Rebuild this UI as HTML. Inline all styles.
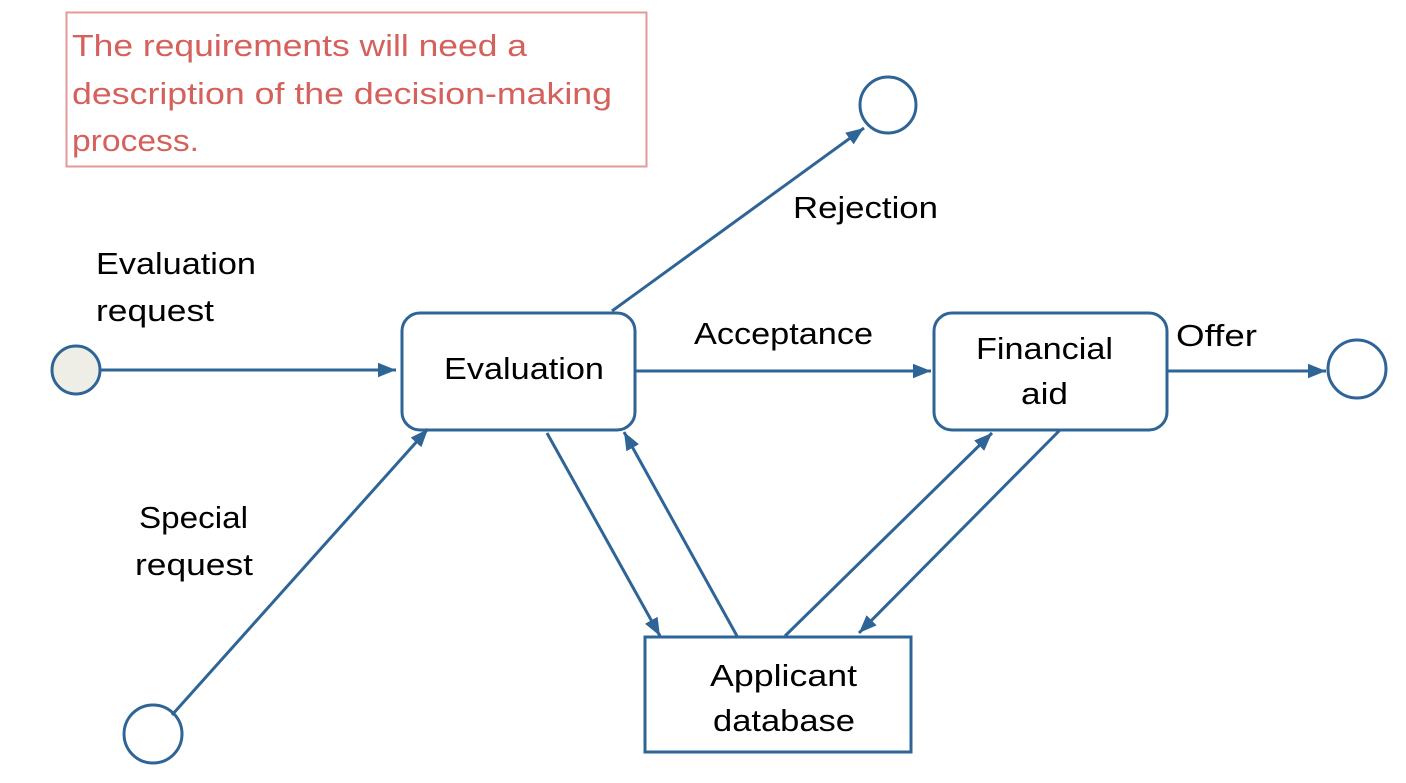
<!DOCTYPE html>
<html><head><meta charset="utf-8"><style>
html,body{margin:0;padding:0;background:#fff;width:1406px;height:783px;overflow:hidden}
svg text{font-family:"Liberation Sans",sans-serif;}
</style></head><body>
<svg width="1406" height="783" viewBox="0 0 1406 783" xmlns="http://www.w3.org/2000/svg">
<defs>
<marker id="b" viewBox="0 0 10 10" refX="10" refY="5" markerWidth="18" markerHeight="18" markerUnits="userSpaceOnUse" orient="auto">
<path d="M0,1 L10,5 L0,9 z" fill="#2e6496"/>
</marker>
</defs>
<rect x="66.5" y="12.5" width="580" height="154" fill="#fff" stroke="#e59a9a" stroke-width="2"/>
<g fill="#d5605c" font-size="31">
<text x="72" y="56" textLength="455" lengthAdjust="spacingAndGlyphs">The requirements will need a</text>
<text x="72" y="104" textLength="540" lengthAdjust="spacingAndGlyphs">description of the decision-making</text>
<text x="72" y="151" textLength="127" lengthAdjust="spacingAndGlyphs">process.</text>
</g>
<g stroke="#2e6496" stroke-width="3" fill="none">
<rect x="402" y="313" width="233" height="117" rx="18"/>
<rect x="934" y="313" width="233" height="117" rx="18"/>
<rect x="645" y="637" width="266" height="115"/>
<circle cx="76" cy="370" r="24" fill="#efeee6"/>
<circle cx="888" cy="105" r="28"/>
<circle cx="1357" cy="369" r="29"/>
<circle cx="153" cy="734" r="29"/>
</g>
<g stroke="#2e6496" stroke-width="3" fill="none" marker-end="url(#b)">
<line x1="100" y1="370" x2="396" y2="370"/>
<line x1="612" y1="311" x2="864" y2="128"/>
<line x1="636" y1="371" x2="931" y2="371"/>
<line x1="1168" y1="371" x2="1326" y2="371"/>
<line x1="172" y1="715" x2="428" y2="429"/>
<line x1="547" y1="433" x2="660" y2="636"/>
<line x1="737" y1="636" x2="624" y2="432"/>
<line x1="785" y1="636" x2="992" y2="433"/>
<line x1="1060" y1="430" x2="859" y2="633"/>
</g>
<g fill="#000" font-size="31">
<text x="96" y="274" textLength="160" lengthAdjust="spacingAndGlyphs">Evaluation</text>
<text x="96" y="321" textLength="118" lengthAdjust="spacingAndGlyphs">request</text>
<text x="444" y="379" textLength="160" lengthAdjust="spacingAndGlyphs">Evaluation</text>
<text x="793" y="218" textLength="145" lengthAdjust="spacingAndGlyphs">Rejection</text>
<text x="694" y="344" textLength="179" lengthAdjust="spacingAndGlyphs">Acceptance</text>
<text x="976" y="359" textLength="137" lengthAdjust="spacingAndGlyphs">Financial</text>
<text x="1021" y="404" textLength="47" lengthAdjust="spacingAndGlyphs">aid</text>
<text x="1176" y="346" textLength="81" lengthAdjust="spacingAndGlyphs">Offer</text>
<text x="139" y="528" textLength="109" lengthAdjust="spacingAndGlyphs">Special</text>
<text x="135" y="575" textLength="118" lengthAdjust="spacingAndGlyphs">request</text>
<text x="710" y="686" textLength="147" lengthAdjust="spacingAndGlyphs">Applicant</text>
<text x="713" y="731" textLength="142" lengthAdjust="spacingAndGlyphs">database</text>
</g>
</svg>
</body></html>
